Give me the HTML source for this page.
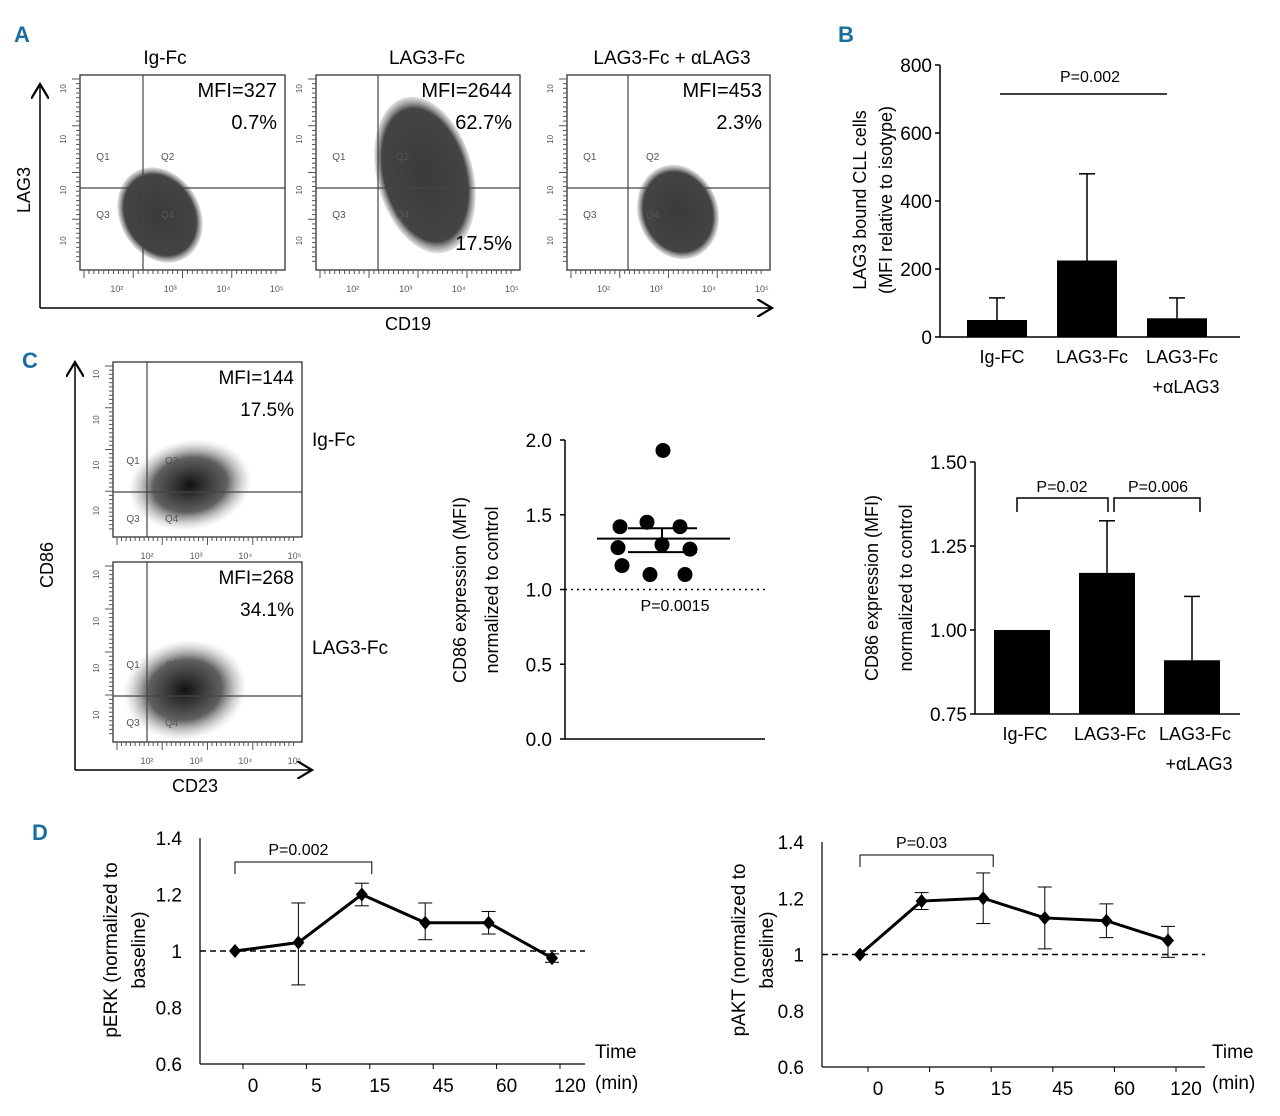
<!DOCTYPE html>
<html><head><meta charset="utf-8"><style>
body{margin:0;background:#fff}
svg{display:block;font-family:"Liberation Sans",sans-serif}
.lt{fill:#1a6e9e;font-weight:bold;font-size:22px}
</style></head><body>
<svg id="s" width="1280" height="1116" viewBox="0 0 1280 1116">
<defs>
<radialGradient id="blob"><stop offset="0" stop-color="#3a3a3a"/><stop offset="0.85" stop-color="#444"/><stop offset="1" stop-color="#777" stop-opacity="0.2"/></radialGradient>
<radialGradient id="blob2"><stop offset="0" stop-color="#111"/><stop offset="0.6" stop-color="#444" stop-opacity="0.85"/><stop offset="1" stop-color="#aaa" stop-opacity="0"/></radialGradient>
<marker id="arr" markerWidth="12" markerHeight="12" refX="10" refY="6" orient="auto"><path d="M0,0 L10,6 L0,12" fill="none" stroke="#000" stroke-width="1.5"/></marker>
</defs>
<g id="root"></g>
</svg>
<script>
// ---- data ----
const bCats=["Ig-FC","LAG3-Fc","LAG3-Fc"];
const bVals=[50,225,55];
const bErr=[115,480,115];
const bTicks=[0,200,400,600,800];
const scVals=[1.93,1.45,1.42,1.42,1.30,1.28,1.27,1.16,1.10,1.10];
const scMean=[1.34];
const scSem=[1.41,1.25];
const scTicks=[0.0,0.5,1.0,1.5,2.0];
const cCats=["Ig-FC","LAG3-Fc","LAG3-Fc"];
const cVals=[1.0,1.17,0.91];
const cErr=[1.0,1.325,1.10];
const cTicks=[0.75,1.00,1.25,1.50];
const dCats=["0","5","15","45","60","120"];
const erkVals=[1.0,1.03,1.2,1.1,1.1,0.975];
const erkLo=[1.0,0.88,1.16,1.04,1.06,0.96];
const erkHi=[1.0,1.17,1.24,1.17,1.14,0.99];
const aktVals=[1.0,1.19,1.2,1.13,1.12,1.05];
const aktLo=[1.0,1.16,1.11,1.02,1.06,0.99];
const aktHi=[1.0,1.22,1.29,1.24,1.18,1.1];
const dTicks=[0.6,0.8,1,1.2,1.4];

const NS="http://www.w3.org/2000/svg";
const root=document.getElementById('root');
function el(tag,attrs,parent,txt){const e=document.createElementNS(NS,tag);for(const k in attrs)e.setAttribute(k,attrs[k]);if(txt!==undefined)e.textContent=txt;(parent||root).appendChild(e);return e;}
function line(x1,y1,x2,y2,p,w,extra){const o={x1,y1,x2,y2,stroke:'#000','stroke-width':w||1.5};Object.assign(o,extra||{});return el('line',o,p);}
function text(x,y,t,size,anchor,p,extra){const o={x,y,'font-size':size,'text-anchor':anchor||'start'};Object.assign(o,extra||{});return el('text',o,p,t);}

[["A",14,42],["B",838,42],["C",22,368],["D",32,840]].forEach(l=>{const t=text(l[1],l[2],l[0],22,'start');t.setAttribute('class','lt');});

function flow(x,y,w,h,vx,hy,blobs,name,mfi,pct,pct2,fs){
  const g=el('g',{});
  
  
  el('rect',{x,y,width:w,height:h,fill:'#fff',stroke:'#333','stroke-width':1.3},g);
  blobs.forEach(b=>el('ellipse',{cx:b[0],cy:b[1],rx:b[2],ry:b[3],fill:b[4]||'url(#blob)',transform:`rotate(${b[5]||0} ${b[0]} ${b[1]})`},g));
  line(vx,y,vx,y+h,g,1.2,{stroke:'#444'});line(x,hy,x+w,hy,g,1.2,{stroke:'#444'});
  for(let i=0;i<40;i++){const tx=x+4+i*(w-8)/40;line(tx,y+h,tx,y+h+(i%10==0?8:4),g,1,{stroke:'#555'});const ty=y+4+i*(h-8)/40;line(x,ty,x-(i%10==0?8:4),ty,g,1,{stroke:'#555'});}
  ['10²','10³','10⁴','10⁵'].forEach((t,i)=>text(x+w*(0.18+i*0.26),y+h+22,t,9,'middle',g,{fill:'#555'}));
  [0,1,2,3].forEach(i=>text(x-14,y+h*(0.85-i*0.26),'10',8,'middle',g,{fill:'#555',transform:`rotate(-90 ${x-14} ${y+h*(0.85-i*0.26)})`}));
  text(x+10+(vx-x)*0.1,hy-28,'Q1',10,'start',g,{fill:'#555'});text(vx+18,hy-28,'Q2',10,'start',g,{fill:'#555'});
  text(x+10+(vx-x)*0.1,hy+30,'Q3',10,'start',g,{fill:'#555'});text(vx+18,hy+30,'Q4',10,'start',g,{fill:'#555'});
  if(mfi)text(x+w-8,y+22,mfi,fs||20,'end',g);
  if(pct)text(x+w-8,y+54,pct,fs||20,'end',g);
  if(pct2)text(x+w-8,y+h-20,pct2,fs||20,'end',g);
}
flow(80,75,205,195,143,188,[[160,215,40,50,'url(#blob)',-30]],'flow-ig-fc','MFI=327','0.7%');
flow(316,75,204,195,378,188,[[425,175,48,80,'url(#blob)',-15]],'flow-lag3-fc','MFI=2644','62.7%','17.5%');
flow(567,75,203,195,628,188,[[678,212,40,48,'url(#blob)',-20]],'flow-lag3-fc-alag3','MFI=453','2.3%');
text(165,64,'Ig-Fc',19,'middle');text(427,64,'LAG3-Fc',19,'middle');text(672,64,'LAG3-Fc + αLAG3',19,'middle');
line(40,308,40,84,null,1.5,{'marker-end':'url(#arr)'});line(40,308,772,308,null,1.5,{'marker-end':'url(#arr)'});
text(30,190,'LAG3',18,'middle',null,{transform:'rotate(-90 30 190)'});text(408,330,'CD19',18,'middle');

flow(113,362,189,175,147,492,[[190,485,62,45,'url(#blob2)',-10]],'flow-c-ig-fc','MFI=144','17.5%',null,19);
flow(113,562,189,180,147,696,[[185,690,62,50,'url(#blob2)',-10]],'flow-c-lag3-fc','MFI=268','34.1%',null,19);
line(75,770,75,362,null,1.5,{'marker-end':'url(#arr)'});line(75,770,312,770,null,1.5,{'marker-end':'url(#arr)'});
text(53,565,'CD86',18,'middle',null,{transform:'rotate(-90 53 565)'});text(195,792,'CD23',18,'middle');
text(312,446,'Ig-Fc',19,'start');text(312,654,'LAG3-Fc',19,'start');

function barChart(o){
  const g=el('g',{});
  
  
  const Y=v=>o.y0-(v-o.vmin)/(o.vmax-o.vmin)*(o.y0-o.y1);
  line(o.ax,o.y0,o.ax,o.y1,g,1.5);line(o.ax,o.y0,o.xend,o.y0,g,1.5);
  o.ticks.forEach(t=>{line(o.ax-5,Y(t),o.ax,Y(t),g,1.5);text(o.ax-8,Y(t)+7,o.fmt(t),19,'end',g);});
  o.vals.forEach((v,i)=>{
    const cx=o.cx0+i*o.dx;
    const r=el('rect',{x:cx-o.bw/2,y:Y(v),width:o.bw,height:o.y0-Y(v),fill:'#000'},g);
    
    
    if(o.err[i]>v){line(cx,Y(v),cx,Y(o.err[i]),g,1.5);line(cx-8,Y(o.err[i]),cx+8,Y(o.err[i]),g,1.5);}
    text(cx+o.lo,o.y0+26,o.cats[i],18,'middle',g);
  });
  text(o.cx0+2*o.dx+o.lo+4,o.y0+56,'+αLAG3',18,'middle',g);
  return {g,Y};
}
const B=barChart({name:'chart-b',ax:940,y0:337,y1:65,vmin:0,vmax:800,xend:1240,ticks:bTicks,fmt:t=>t,vals:bVals,err:bErr,cats:bCats,cx0:997,dx:90,bw:60,lo:5});
line(1000,94,1167,94,B.g,1.5);text(1090,82,'P=0.002',16,'middle',B.g);
text(866,200,'LAG3 bound CLL cells',18,'middle',B.g,{transform:'rotate(-90 866 200)'});
text(892,200,'(MFI relative to isotype)',18,'middle',B.g,{transform:'rotate(-90 892 200)'});

const C=barChart({name:'chart-c-bars',ax:975,y0:714,y1:462,vmin:0.75,vmax:1.5,xend:1240,ticks:cTicks,fmt:t=>t.toFixed(2),vals:cVals,err:cErr,cats:cCats,cx0:1022,dx:85,bw:56,lo:3});
el('path',{d:'M1017,512 V498 H1108 V512 M1114,512 V498 H1200 V512',fill:'none',stroke:'#000','stroke-width':1.5},C.g);
text(1062,492,'P=0.02',16,'middle',C.g);text(1158,492,'P=0.006',16,'middle',C.g);
text(878,588,'CD86 expression (MFI)',18,'middle',C.g,{transform:'rotate(-90 878 588)'});
text(912,588,'normalized to control',18,'middle',C.g,{transform:'rotate(-90 912 588)'});

(function(){
  const g=el('g',{});
  
  
  const y0=739,y1=440,Y=v=>y0-v/2*(y0-y1);
  line(565,y0,565,y1,g,1.5);line(565,y0,765,y0,g,1.5);
  scTicks.forEach(t=>{line(560,Y(t),565,Y(t),g,1.5);text(552,Y(t)+7,t.toFixed(1),19,'end',g);});
  line(565,Y(1),765,Y(1),g,1.5,{'stroke-dasharray':'2,4'});
  const xs=[663,647,620,680,662,618,690,622,650,685];
  scVals.forEach((v,i)=>{const c=el('circle',{cx:xs[i%xs.length],cy:Y(v),r:7.5,fill:'#000'},g);});
  line(597,Y(scMean[0]),730,Y(scMean[0]),g,2);
  scSem.forEach(s=>line(628,Y(s),697,Y(s),g,2));
  line(662,Y(scSem[0]),662,Y(scSem[1]),g,2);
  text(675,611,'P=0.0015',16,'middle',g);
  text(466,590,'CD86 expression (MFI)',18,'middle',g,{transform:'rotate(-90 466 590)'});
  text(498,590,'normalized to control',18,'middle',g,{transform:'rotate(-90 498 590)'});
})();

function lineChart(o){
  const g=el('g',{});
  
  
  const Y=v=>o.y0-(v-0.6)/0.8*(o.y0-o.y1);
  const X=i=>o.x0+i*o.dx;
  line(o.ax,o.y0,o.ax,o.y1,g,1.2);line(o.ax,o.y0,o.xend,o.y0,g,1.2);
  dTicks.forEach(t=>{text(o.ax-18,Y(t)+7,String(t),19,'end',g);});
  dCats.forEach((c,i)=>{line(X(i)+8,o.y0,X(i)+8,o.y0+5,g,1);text(X(i)+18,o.y0+28,c,19,'middle',g);});
  line(o.ax,Y(1),o.xend,Y(1),g,1.5,{'stroke-dasharray':'6,4'});
  o.vals.forEach((v,i)=>{if(o.hi[i]>o.lo[i]){line(X(i),Y(o.lo[i]),X(i),Y(o.hi[i]),g,1);line(X(i)-7,Y(o.lo[i]),X(i)+7,Y(o.lo[i]),g,1);line(X(i)-7,Y(o.hi[i]),X(i)+7,Y(o.hi[i]),g,1);}});
  el('polyline',{points:o.vals.map((v,i)=>X(i)+','+Y(v)).join(' '),fill:'none',stroke:'#000','stroke-width':3},g);
  o.vals.forEach((v,i)=>{const d=el('path',{d:`M${X(i)},${Y(v)-7} l6,7 l-6,7 l-6,-7z`,fill:'#000'},g);});
  el('path',{d:`M${X(0)},${o.by+12} V${o.by} H${X(2)+10} V${o.by+12}`,fill:'none',stroke:'#000','stroke-width':1},g);
  text((X(0)+X(2))/2,o.by-7,o.p,16,'middle',g);
  text(o.tx,1058,'Time',19,'start',g);text(o.tx,1089,'(min)',19,'start',g);
  text(o.lx,950,o.l1,19,'middle',g,{transform:`rotate(-90 ${o.lx} 950)`});
  text(o.lx+28,950,'baseline)',19,'middle',g,{transform:`rotate(-90 ${o.lx+28} 950)`});
}
lineChart({name:'chart-perk',ax:200,y0:1064,y1:838,xend:585,x0:235,dx:63.4,vals:erkVals,lo:erkLo,hi:erkHi,by:862,p:'P=0.002',tx:595,lx:117,l1:'pERK (normalized to'});
lineChart({name:'chart-pakt',ax:822,y0:1067,y1:842,xend:1205,x0:860,dx:61.6,vals:aktVals,lo:aktLo,hi:aktHi,by:855,p:'P=0.03',tx:1212,lx:745,l1:'pAKT (normalized to'});
</script>
</body></html>
